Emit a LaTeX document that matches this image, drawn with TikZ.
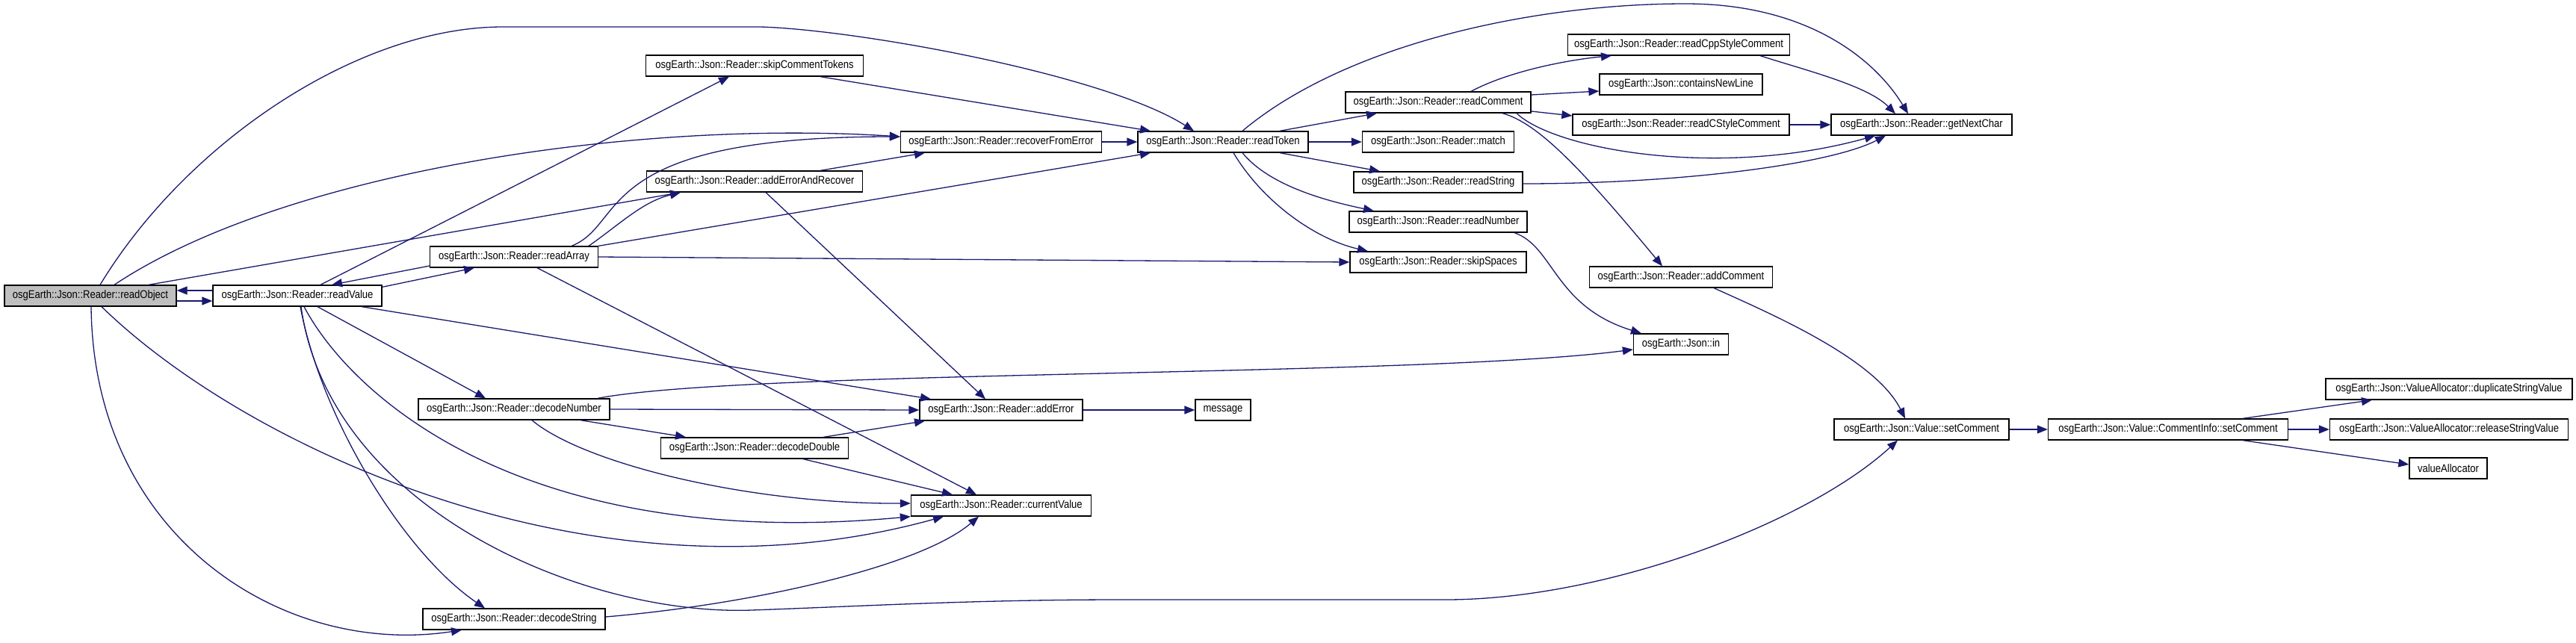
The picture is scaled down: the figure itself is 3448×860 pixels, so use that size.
\documentclass[tikz,border=0pt]{standalone}
\usepackage{fontspec}
\setmainfont{Liberation Sans}[FakeStretch=0.87]
\usepackage{tikz}
\usetikzlibrary{arrows.meta}
\definecolor{callblue}{HTML}{191970}

\begin{document}
\begin{tikzpicture}[x=1pt,y=-1pt,
    fn/.style={draw=black,line width=1.3pt,fill=white,minimum height=28pt,
        inner xsep=4pt,inner ysep=0pt,font=\fontsize{15}{18}\selectfont},
    call/.style={draw=callblue,line width=1.3pt,-{Triangle[length=14pt,width=11pt]}}]
    \useasboundingbox (0,0) rectangle (3448,860);
    % Functions
    \node[fn,fill=gray!50,minimum width=230pt] (readObject) at (121,396) {osgEarth::Json::Reader::readObject};
    \node[fn,minimum width=226pt] (readValue) at (398,396) {osgEarth::Json::Reader::readValue};
    \node[fn,minimum width=225pt] (readArray) at (688,344) {osgEarth::Json::Reader::readArray};
    \node[fn,minimum width=256pt] (decodeNumber) at (688,548) {osgEarth::Json::Reader::decodeNumber};
    \node[fn,minimum width=244pt] (decodeString) at (688,829) {osgEarth::Json::Reader::decodeString};
    \node[fn,minimum width=291pt] (skipCommentTokens) at (1010,88) {osgEarth::Json::Reader::skipCommentTokens};
    \node[fn,minimum width=289pt] (addErrorAndRecover) at (1010,243) {osgEarth::Json::Reader::addErrorAndRecover};
    \node[fn,minimum width=251pt] (decodeDouble) at (1010,600) {osgEarth::Json::Reader::decodeDouble};
    \node[fn,minimum width=269pt] (recoverFromError) at (1340,190) {osgEarth::Json::Reader::recoverFromError};
    \node[fn,minimum width=218pt] (addError) at (1340,549) {osgEarth::Json::Reader::addError};
    \node[fn,minimum width=241pt] (currentValue) at (1340,677) {osgEarth::Json::Reader::currentValue};
    \node[fn,minimum width=228pt] (readToken) at (1637,190) {osgEarth::Json::Reader::readToken};
    \node[fn,minimum width=74pt] (message) at (1637,549) {message};
    \node[fn,minimum width=248pt] (readComment) at (1925,137) {osgEarth::Json::Reader::readComment};
    \node[fn,minimum width=203pt] (match) at (1925,190) {osgEarth::Json::Reader::match};
    \node[fn,minimum width=226pt] (readString) at (1925,244) {osgEarth::Json::Reader::readString};
    \node[fn,minimum width=238pt] (readNumber) at (1925,297) {osgEarth::Json::Reader::readNumber};
    \node[fn,minimum width=236pt] (skipSpaces) at (1925,351) {osgEarth::Json::Reader::skipSpaces};
    \node[fn,minimum width=297pt] (readCppStyleComment) at (2247,60) {osgEarth::Json::Reader::readCppStyleComment};
    \node[fn,minimum width=218pt] (containsNewLine) at (2250,113) {osgEarth::Json::containsNewLine};
    \node[fn,minimum width=290pt] (readCStyleComment) at (2250,167) {osgEarth::Json::Reader::readCStyleComment};
    \node[fn,minimum width=245pt] (addComment) at (2250,371) {osgEarth::Json::Reader::addComment};
    \node[fn,minimum width=127pt] (jsonIn) at (2250,461) {osgEarth::Json::in};
    \node[fn,minimum width=242pt] (getNextChar) at (2572,167) {osgEarth::Json::Reader::getNextChar};
    \node[fn,minimum width=234pt] (setComment) at (2572,575) {osgEarth::Json::Value::setComment};
    \node[fn,minimum width=321pt] (infoSetComment) at (2902,575) {osgEarth::Json::Value::CommentInfo::setComment};
    \node[fn,minimum width=330pt] (duplicateStringValue) at (3278,521) {osgEarth::Json::ValueAllocator::duplicateStringValue};
    \node[fn,minimum width=319pt] (releaseStringValue) at (3278,575) {osgEarth::Json::ValueAllocator::releaseStringValue};
    \node[fn,minimum width=104pt] (valueAllocator) at (3277,627) {valueAllocator};
    % readObject
    \draw[call] ([yshift=-7pt]readObject.east) -- ([yshift=-7pt]readValue.west);
    \draw[call] ([xshift=13pt]readObject.north) .. controls (250,190) and (480,36) .. (673,36) -- (1018,36)
        .. controls (1150,40) and (1480,100) .. ([xshift=-39pt]readToken.north);
    \draw[call] ([xshift=32pt]readObject.north) .. controls (380,230) and (850,160) .. ([yshift=7pt]recoverFromError.west);
    \draw[call] ([xshift=78pt]readObject.north) -- ([xshift=-99pt]addErrorAndRecover.south);
    \draw[call] ([xshift=15pt]readObject.south) .. controls (330,600) and (800,820) .. ([xshift=-77pt]currentValue.south);
    \draw[call] ([xshift=1pt]readObject.south) .. controls (125,720) and (380,880) .. ([xshift=-70pt]decodeString.south);
    % readValue
    \draw[call] ([yshift=7pt]readValue.west) -- ([yshift=7pt]readObject.east);
    \draw[call] ([xshift=31pt]readValue.north) -- ([xshift=-34pt]skipCommentTokens.south);
    \draw[call] ([yshift=-3pt]readValue.north east) -- ([xshift=-53pt]readArray.south);
    \draw[call] ([xshift=27pt]readValue.south) -- ([xshift=-38pt]decodeNumber.north);
    \draw[call] ([xshift=4pt]readValue.south) .. controls (430,560) and (540,740) .. ([xshift=-39pt]decodeString.north);
    \draw[call] ([xshift=9pt]readValue.south) .. controls (470,530) and (700,740) .. (currentValue.south west);
    \draw[call] ([xshift=86pt]readValue.south) -- ([xshift=-94pt]addError.north);
    \draw[call] ([xshift=5pt]readValue.south) .. controls (440,680) and (780,825) .. (1006,817)
        .. controls (1150,812) and (1300,803) .. (1500,803) -- (1935,803)
        .. controls (2150,803) and (2420,700) .. ([xshift=-32pt]setComment.south);
    % readArray
    \draw[call] ([yshift=-12pt]readArray.west) -- ([xshift=46pt]readValue.north);
    \draw[call] ([xshift=77pt]readArray.north) .. controls (840,300) and (790,183) .. ([yshift=7pt]recoverFromError.west);
    \draw[call] ([xshift=100pt]readArray.north) .. controls (830,300) and (860,270) .. ([xshift=-99pt]addErrorAndRecover.south);
    \draw[call] (readArray.north east) -- ([xshift=-97pt]readToken.south);
    \draw[call] (readArray.east) -- (skipSpaces.west);
    \draw[call] ([xshift=31pt]readArray.south) -- ([xshift=-33pt]currentValue.north);
    % error recovery and tokens
    \draw[call] ([xshift=88pt]skipCommentTokens.south) -- ([xshift=-97pt]readToken.north);
    \draw[call] ([xshift=88pt]addErrorAndRecover.north) -- ([xshift=-102pt]recoverFromError.south);
    \draw[call] ([xshift=15pt]addErrorAndRecover.south) -- ([xshift=-21pt]addError.north);
    \draw[call] (recoverFromError.east) -- (readToken.west);
    % readToken
    \draw[call] ([xshift=26pt]readToken.north) .. controls (1800,60) and (2050,5) .. (2256,5)
        .. controls (2420,5) and (2510,80) .. ([xshift=-18pt]getNextChar.north);
    \draw[call] ([xshift=76pt]readToken.north) -- ([xshift=-82pt]readComment.south);
    \draw[call] (readToken.east) -- (match.west);
    \draw[call] ([xshift=76pt]readToken.south) -- ([xshift=-78pt]readString.north);
    \draw[call] ([xshift=26pt]readToken.south) .. controls (1700,250) and (1780,270) .. ([xshift=-86pt]readNumber.north);
    \draw[call] ([xshift=14pt]readToken.south) .. controls (1690,270) and (1760,320) .. ([xshift=-94pt]skipSpaces.north);
    % readComment
    \draw[call] ([xshift=44pt]readComment.north) .. controls (2020,95) and (2100,80) .. ([xshift=-90pt]readCppStyleComment.south);
    \draw[call] ([yshift=10pt]readComment.east) -- ([yshift=-9pt]containsNewLine.west);
    \draw[call] ([yshift=-12pt]readComment.east) -- ([yshift=12pt]readCStyleComment.west);
    \draw[call] ([xshift=105pt]readComment.south) .. controls (2080,200) and (2300,240) .. ([xshift=-62pt]getNextChar.south);
    \draw[call] ([xshift=86pt]readComment.south) .. controls (2060,165) and (2120,230) .. ([xshift=-25pt]addComment.north);
    \draw[call] ([xshift=109pt]readCppStyleComment.south) .. controls (2420,95) and (2500,115) .. ([xshift=-35pt]getNextChar.north);
    \draw[call] (readCStyleComment.east) -- (getNextChar.west);
    \draw[call] ([yshift=-2pt]readString.east) .. controls (2250,246) and (2450,220) .. ([xshift=-48pt]getNextChar.south);
    \draw[call] ([xshift=102pt]readNumber.south) .. controls (2080,330) and (2080,410) .. ([xshift=-53pt]jsonIn.north);
    \draw[call] ([xshift=44pt]addComment.south) .. controls (2370,420) and (2510,480) .. ([xshift=-22pt]setComment.north);
    % setComment
    \draw[call] (setComment.east) -- (infoSetComment.west);
    \draw[call] ([xshift=100pt]infoSetComment.north) -- ([xshift=-103pt]duplicateStringValue.south);
    \draw[call] (infoSetComment.east) -- (releaseStringValue.west);
    \draw[call] ([xshift=100pt]infoSetComment.south) -- ([yshift=5pt]valueAllocator.west);
    % decoding
    \draw[call] ([xshift=112pt]decodeNumber.north) .. controls (1000,495) and (1900,505) .. ([yshift=-7pt]jsonIn.west);
    \draw[call] (decodeNumber.east) -- (addError.west);
    \draw[call] ([xshift=89pt]decodeNumber.south) -- ([xshift=-92pt]decodeDouble.north);
    \draw[call] ([xshift=24pt]decodeNumber.south) .. controls (780,620) and (1000,675) .. ([yshift=3pt]currentValue.west);
    \draw[call] ([xshift=92pt]decodeDouble.north) -- ([xshift=-102pt]addError.south);
    \draw[call] ([xshift=65pt]decodeDouble.south) -- ([xshift=-65pt]currentValue.north);
    \draw[call] ([yshift=3pt]decodeString.east) .. controls (1000,810) and (1230,760) .. ([xshift=-30pt]currentValue.south);
    \draw[call] (addError.east) -- (message.west);
\end{tikzpicture}
\end{document}
